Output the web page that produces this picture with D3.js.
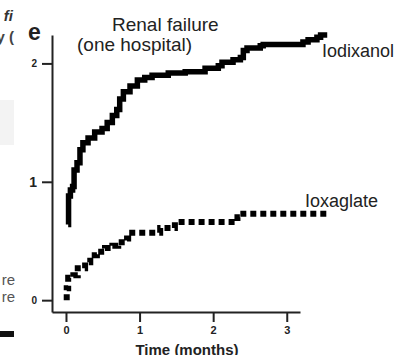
<!DOCTYPE html>
<html>
<head>
<meta charset="utf-8">
<script src="https://cdn.jsdelivr.net/npm/d3@7"></script>
<style>
  body { margin: 0; background: #fff; }
  text { font-family: "Liberation Sans", Arial, sans-serif; }
</style>
</head>
<body>
<div id="chart"></div>
<script>
// cumulative events (step points: months, value)
var iodixanolT = [0.03, 0.035, 0.06, 0.09, 0.11, 0.15, 0.19, 0.23, 0.30, 0.39, 0.49, 0.56, 0.63, 0.69, 0.73, 0.78, 0.87, 0.97, 1.07, 1.17, 1.39, 1.62, 1.89, 2.07, 2.12, 2.27, 2.37, 2.41, 2.46, 2.64, 2.68, 3.22, 3.29, 3.41, 3.46, 3.55];
var iodixanolV = [0.64, 0.88, 0.93, 0.96, 1.10, 1.16, 1.27, 1.33, 1.37, 1.42, 1.45, 1.50, 1.56, 1.61, 1.70, 1.76, 1.81, 1.86, 1.88, 1.90, 1.92, 1.93, 1.96, 1.98, 2.01, 2.03, 2.05, 2.11, 2.13, 2.15, 2.16, 2.18, 2.20, 2.22, 2.24, 2.24];
var ioxaglateT = [0.01, 0.01, 0.03, 0.10, 0.16, 0.26, 0.33, 0.42, 0.53, 0.63, 0.71, 0.83, 0.90, 1.28, 1.48, 2.33, 2.41, 3.46, 3.56];
var ioxaglateV = [0.00, 0.10, 0.19, 0.21, 0.27, 0.32, 0.38, 0.41, 0.44, 0.46, 0.49, 0.52, 0.57, 0.61, 0.66, 0.70, 0.73, 0.73, 0.75];
var xTicks = [0, 1, 2, 3];
var yTicks = [0, 1, 2];
var seriesNames = ["Iodixanol", "Ioxaglate"];

var svg = d3.select("#chart")
    .append("svg")
    .attr("width", 404)
    .attr("height", 355);

// bits of the neighbouring panel cut by the crop
svg.append("rect").attr("x", 0).attr("y", 100).attr("width", 14).attr("height", 45).style("fill", "#f3f3f3");
svg.append("text").attr("x", 13).attr("y", 21).attr("text-anchor", "end")
    .style("font-size", "15px").style("font-style", "italic").style("font-weight", "bold").style("fill", "#333").text("fi");
svg.append("text").attr("x", 14).attr("y", 42).attr("text-anchor", "end")
    .style("font-size", "15px").style("font-weight", "bold").style("fill", "#444").text("y (");
svg.append("text").attr("x", 15).attr("y", 285).attr("text-anchor", "end")
    .style("font-size", "15px").style("fill", "#555").text("re");
svg.append("text").attr("x", 15).attr("y", 302).attr("text-anchor", "end")
    .style("font-size", "15px").style("fill", "#555").text("re");
svg.append("rect").attr("x", 0).attr("y", 331).attr("width", 14).attr("height", 6).style("fill", "#111");

var x = d3.scaleLinear().domain([-0.19, 3.18]).range([52, 300]);
var y = d3.scaleLinear().domain([-0.1, 2.24]).range([312, 35]);

var xAxis = svg.append("g")
    .attr("transform", "translate(0,312)")
    .call(d3.axisBottom(x).tickValues(xTicks).tickFormat(d3.format("d"))
        .tickSize(10).tickSizeOuter(0).tickPadding(4));
var yAxis = svg.append("g")
    .attr("transform", "translate(52,0)")
    .call(d3.axisLeft(y).tickValues(yTicks).tickFormat(d3.format("d"))
        .tickSize(10).tickSizeOuter(0).tickPadding(5));

[xAxis, yAxis].forEach(function(g) {
    g.selectAll("path, line").style("stroke", "#222").style("stroke-width", 2);
    g.selectAll("text").style("fill", "#222").style("font-family", "Liberation Sans, Arial, sans-serif");
});
xAxis.selectAll("text").style("font-size", "11px").style("font-weight", "bold");
yAxis.selectAll("text")
    .style("font-size", function(d) { return d == 1 ? "14px" : "10px"; })
    .style("font-weight", "bold");

var line = d3.line()
    .x(function(d) { return x(d[0]); })
    .y(function(d) { return y(d[1]); })
    .curve(d3.curveStepAfter);

var iodixanol = iodixanolT.map(function(t, i) { return [t, iodixanolV[i]]; });
var ioxaglate = ioxaglateT.map(function(t, i) { return [t, ioxaglateV[i]]; });

svg.append("path")
    .datum(iodixanol)
    .attr("d", line)
    .style("fill", "none")
    .style("stroke", "#000")
    .style("stroke-width", 5.5);

svg.append("path")
    .datum(ioxaglate)
    .attr("d", line)
    .style("fill", "none")
    .style("stroke", "#000")
    .style("stroke-width", 6)
    .style("stroke-dasharray", "6,4");

svg.append("text").attr("x", 322).attr("y", 57)
    .style("font-size", "18px").style("fill", "#222").text(seriesNames[0]);
svg.append("text").attr("x", 305).attr("y", 207)
    .style("font-size", "18px").style("fill", "#222").text(seriesNames[1]);

// panel letter and title
svg.append("text").attr("x", 28).attr("y", 40)
    .style("font-size", "23px").style("font-weight", "bold").style("fill", "#222").text("e");
svg.append("text").attr("x", 112).attr("y", 31)
    .style("font-size", "19px").style("fill", "#222").text("Renal failure");
svg.append("text").attr("x", 77).attr("y", 51)
    .style("font-size", "19px").style("fill", "#222").text("(one hospital)");

svg.append("text").attr("x", 187).attr("y", 355)
    .attr("text-anchor", "middle")
    .style("font-size", "15px").style("font-weight", "bold").style("fill", "#222").text("Time (months)");
</script>
</body>
</html>
